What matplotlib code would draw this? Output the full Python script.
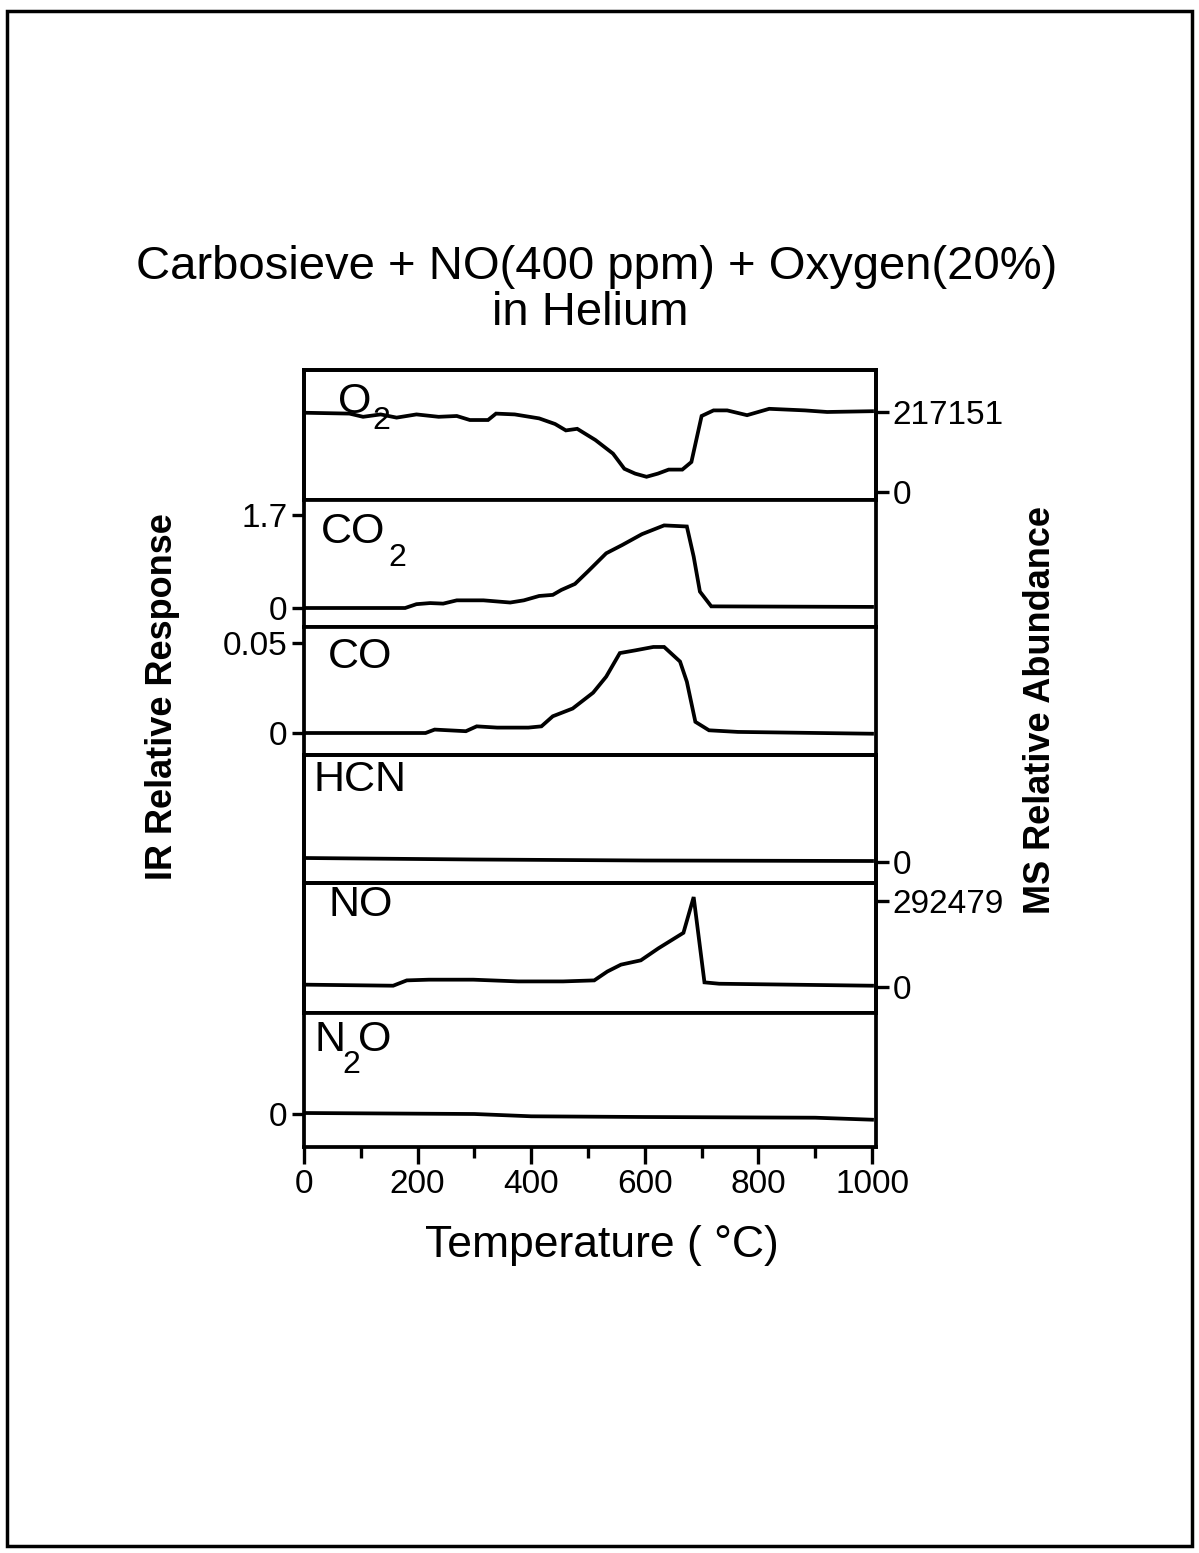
import matplotlib
matplotlib.use("Agg")
import matplotlib.pyplot as plt
from matplotlib.patches import Rectangle

plt.rcParams['font.family'] = ['Liberation Sans', 'DejaVu Sans']

# ---- data ----
temp_o2 = [5, 80, 104, 135, 163, 198, 237, 269, 292, 324, 338, 371, 414, 442, 461, 481,
           513, 544, 564, 583, 603, 623, 642, 666, 682, 700, 721, 745, 780, 819, 882, 921, 1000]
o2 = [215000, 212800, 204100, 210600, 201900, 210600, 204100, 206300, 195400, 195400,
      212800, 210600, 199800, 184600, 167200, 171500, 141100, 104200, 63000, 49900,
      41300, 49900, 60800, 60800, 81400, 206300, 221500, 221500, 208500, 225800,
      221500, 217200, 219300]

temp_co2 = [5, 178, 198, 222, 245, 269, 316, 363, 387, 414, 438, 453, 477, 500, 532,
            560, 595, 634, 674, 686, 697, 717, 1000]
co2 = [0, 0, 0.07, 0.09, 0.08, 0.14, 0.14, 0.10, 0.14, 0.22, 0.24, 0.33, 0.44, 0.67,
       1.0, 1.15, 1.35, 1.51, 1.49, 0.94, 0.30, 0.03, 0.02]

temp_co = [2, 214, 230, 285, 304, 340, 395, 418, 438, 473, 509, 532, 556, 583, 615,
           634, 662, 674, 689, 713, 764, 1000]
co = [0, 0, 0.0019, 0.001, 0.0037, 0.003, 0.003, 0.0037, 0.0093, 0.0136, 0.0224,
      0.0313, 0.0444, 0.0459, 0.0478, 0.0478, 0.0397, 0.0285, 0.0062, 0.0015,
      0.0006, -0.0004]

temp_hcn = [0, 300, 600, 1000]
hcn = [0.04, 0.025, 0.015, 0.01]

temp_no = [4, 157, 181, 220, 298, 377, 456, 511, 534, 558, 593, 624, 668, 686, 705,
           731, 1000]
no = [7900, 4400, 22500, 24900, 24900, 19000, 19000, 22500, 52600, 76000, 90700,
      131600, 184300, 305900, 15800, 11100, 4400]

temp_n2o = [0, 300, 400, 600, 900, 1000]
n2o = [0.01, 0.0, -0.023, -0.03, -0.037, -0.057]

x_ticks = [0, 200, 400, 600, 800, 1000]

W, H = 1199, 1553
fig = plt.figure(figsize=(W / 100, H / 100), dpi=100)


def fx(px):
    return px / W


def fy(py):
    return 1 - py / H


# label, sub, x, y, top px, bottom px, zero px, ref px, ref value,
# left ticks, right ticks, label x, label baseline
panels = [
    ("O", "2", temp_o2, o2, 370, 500, 492, 412, 217151, [], [(0, "0"), (217151, "217151")], 338, 413),
    ("CO", "2", temp_co2, co2, 500, 627, 608, 515, 1.7, [(0, "0"), (1.7, "1.7")], [], 321, 543),
    ("CO", "", temp_co, co, 627, 755, 733, 643, 0.05, [(0, "0"), (0.05, "0.05")], [], 328, 668),
    ("HCN", "", temp_hcn, hcn, 755, 883, 862, 762, 1.0, [], [(0, "0")], 314, 791),
    ("NO", "", temp_no, no, 883, 1013, 987, 901, 292479, [], [(0, "0"), (292479, "292479")], 329, 916),
    ("N", "2", temp_n2o, n2o, 1013, 1147, 1114, 1014, 1.0, [(0, "0")], [], 315, 1051),
]

left_px, right_px = 304, 876
lw = 2.7
tick_kw = dict(direction='out', length=9, width=2.4, labelsize=24, pad=3)

for i, (lab, sub, xs, ys, top, bot, zero, refp, refv, lt, rt, lx, ly) in enumerate(panels):
    ax = fig.add_axes([fx(left_px), fy(bot), (right_px - left_px) / W, (bot - top) / H])
    s = refv / (zero - refp)
    ylim = (-(bot - zero) * s, (zero - top) * s)
    ax.plot(xs, ys, color='black', lw=lw, solid_joinstyle='miter')
    ax.set_xlim(0, 1007)
    ax.set_ylim(*ylim)
    for sp in ax.spines.values():
        sp.set_linewidth(lw)
    ax.set_yticks([v for v, _ in lt])
    ax.set_yticklabels([t for _, t in lt])
    ax.tick_params(axis='y', **tick_kw)
    if rt:
        ax2 = ax.twinx()
        ax2.set_ylim(*ylim)
        ax2.set_yticks([v for v, _ in rt])
        ax2.set_yticklabels([t for _, t in rt])
        ax2.tick_params(axis='y', **tick_kw)
        for sp in ax2.spines.values():
            sp.set_linewidth(lw)
    if i == len(panels) - 1:
        ax.set_xticks(x_ticks)
        ax.set_xticks([100, 300, 500, 700, 900], minor=True)
        ax.tick_params(axis='x', which='major', direction='out', length=12, width=2.4,
                       labelsize=24, pad=4)
        ax.tick_params(axis='x', which='minor', direction='out', length=8, width=2.4)
    else:
        ax.set_xticks([])
    # panel label with big low subscript
    fig.text(fx(lx), fy(ly), lab, fontsize=31, ha='left', va='baseline')
    if sub:
        if lab == "N":
            fig.text(fx(342), fy(ly + 22), sub, fontsize=23, ha='left', va='baseline')
            fig.text(fx(358), fy(ly), "O", fontsize=31, ha='left', va='baseline')
        elif lab == "O":
            fig.text(fx(lx + 34), fy(ly + 16), sub, fontsize=23, ha='left', va='baseline')
        else:
            fig.text(fx(lx + 67), fy(ly + 23), sub, fontsize=23, ha='left', va='baseline')

# titles and axis labels
fig.text(fx(597), fy(279), "Carbosieve + NO(400 ppm) + Oxygen(20%)", fontsize=34,
         ha='center', va='baseline')
fig.text(fx(590), fy(325), "in Helium", fontsize=34, ha='center', va='baseline')
fig.text(fx(163), fy(697), "IR Relative Response", fontsize=26, fontweight='bold',
         rotation=90, ha='center', va='center')
fig.text(fx(1040), fy(710), "MS Relative Abundance", fontsize=26, fontweight='bold',
         rotation=90, ha='center', va='center')
fig.text(fx(602), fy(1245), "Temperature ( \u00b0C)", fontsize=32, ha='center', va='center')

# page frame
fig.add_artist(Rectangle((fx(7), fy(1546)), (1192 - 7) / W, (1546 - 11) / H, fill=False,
                         lw=2.5, ec='black', transform=fig.transFigure))

fig.savefig("out.png", dpi=100)
